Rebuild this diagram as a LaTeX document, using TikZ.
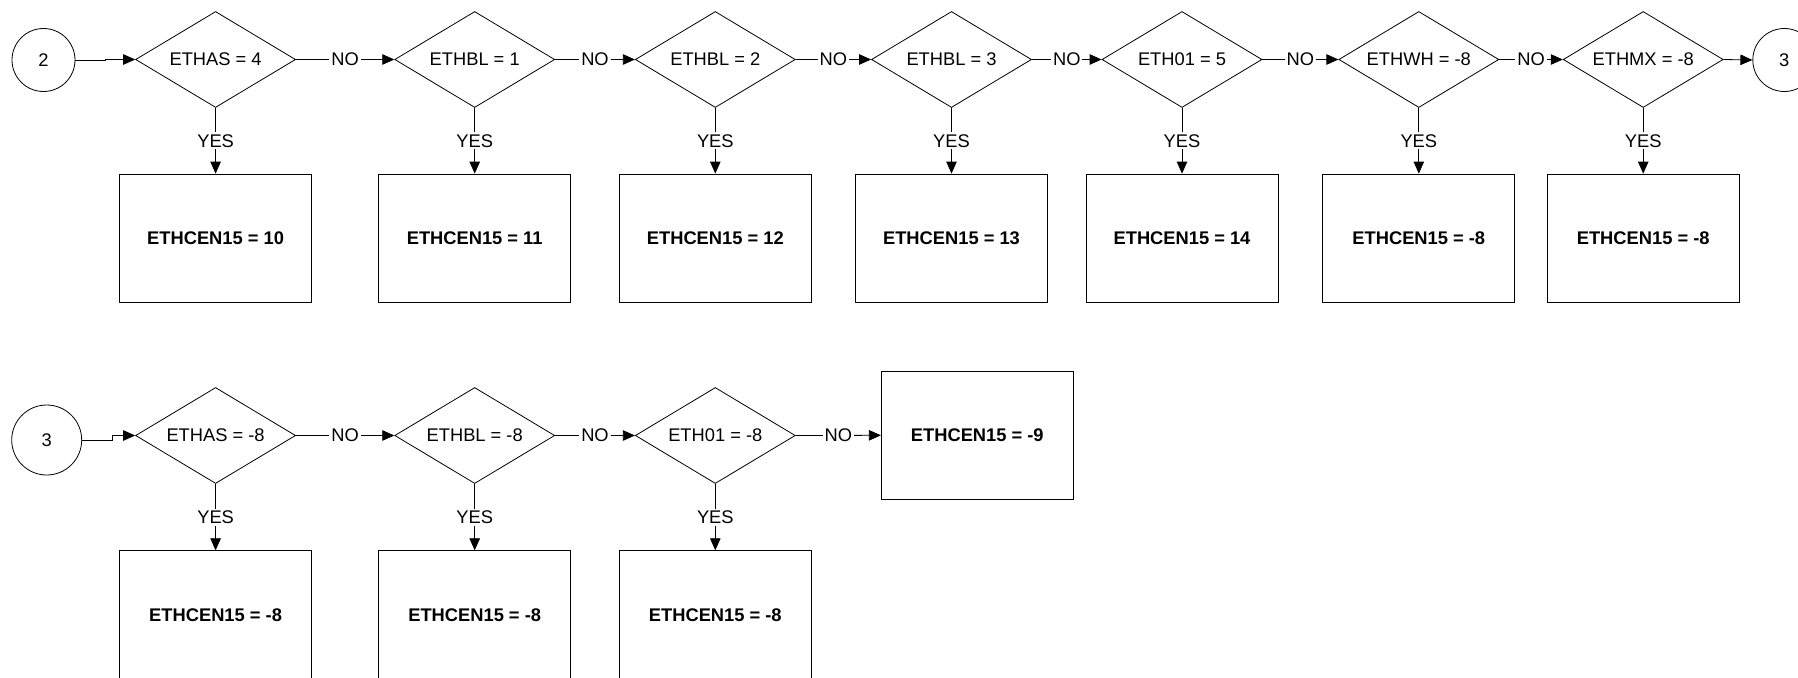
\documentclass[tikz,border=0pt]{standalone}
\usepackage{fontspec}
\setmainfont{Liberation Sans}
\usetikzlibrary{shapes.geometric,arrows.meta}
\begin{document}
\begin{tikzpicture}[x=1pt,y=-1pt,
  every node/.style={font=\fontsize{18.3}{21}\selectfont},
  dec/.style={diamond,draw,line width=0.8pt,minimum width=160pt,minimum height=96pt,inner sep=0pt,aspect=1.67},
  res/.style={rectangle,draw,line width=0.8pt,minimum width=192pt,minimum height=128pt,font=\fontsize{18.3}{21}\selectfont\bfseries},
  conn/.style={circle,draw,line width=0.8pt,minimum size=63pt,inner sep=0pt},
  arr/.style={line width=0.8pt,-{Triangle[length=12pt,width=10.5pt]}},
  lbl/.style={fill=white,inner sep=2pt}
]
\useasboundingbox (0,0) rectangle (1798,677);
\fill[white] (0,0) rectangle (1798,677);

% Row 1
\node[conn] (c2) at (43.5,60) {2};
\node[dec] (d1) at (215.6,59.5) {ETHAS = 4};
\node[dec] (d2) at (474.7,59.5) {ETHBL = 1};
\node[dec] (d3) at (715.3,59.5) {ETHBL = 2};
\node[dec] (d4) at (951.5,59.5) {ETHBL = 3};
\node[dec] (d5) at (1182,59.5) {ETH01 = 5};
\node[dec] (d6) at (1418.8,59.5) {ETHWH = -8};
\node[dec] (d7) at (1643.2,59.5) {ETHMX = -8};
\node[conn] (c3a) at (1784.3,60) {3};

\node[res] (b1) at (215.6,238) {ETHCEN15 = 10};
\node[res] (b2) at (474.7,238) {ETHCEN15 = 11};
\node[res] (b3) at (715.3,238) {ETHCEN15 = 12};
\node[res] (b4) at (951.5,238) {ETHCEN15 = 13};
\node[res] (b5) at (1182,238) {ETHCEN15 = 14};
\node[res] (b6) at (1418.8,238) {ETHCEN15 = -8};
\node[res] (b7) at (1643.2,238) {ETHCEN15 = -8};

\draw[arr] (c2.east) -- ++(30,0) |- (d1.west);
\foreach \a/\b in {d1/d2,d2/d3,d3/d4,d4/d5,d5/d6,d6/d7}
  \draw[arr] (\a.east) -- node[lbl]{NO} (\b.west);
\draw[arr] (d7.east) -- (c3a.west);
\foreach \a/\b in {d1/b1,d2/b2,d3/b3,d4/b4,d5/b5,d6/b6,d7/b7}
  \draw[arr] (\a.south) -- node[lbl]{YES} (\b.north);

% Row 2
\node[conn,minimum size=70pt] (c3b) at (46.7,440) {3};
\node[dec] (e1) at (215.6,435.5) {ETHAS = -8};
\node[dec] (e2) at (474.7,435.5) {ETHBL = -8};
\node[dec] (e3) at (715.3,435.5) {ETH01 = -8};
\node[res] (f4) at (977.3,435.3) {ETHCEN15 = -9};

\node[res] (f1) at (215.6,614.7) {ETHCEN15 = -8};
\node[res] (f2) at (474.7,614.7) {ETHCEN15 = -8};
\node[res] (f3) at (715.3,614.7) {ETHCEN15 = -8};

\draw[arr] (c3b.east) -- ++(30,0) |- (e1.west);
\draw[arr] (e1.east) -- node[lbl]{NO} (e2.west);
\draw[arr] (e2.east) -- node[lbl]{NO} (e3.west);
\draw[arr] (e3.east) -- node[lbl]{NO} (f4.west);
\foreach \a/\b in {e1/f1,e2/f2,e3/f3}
  \draw[arr] (\a.south) -- node[lbl]{YES} (\b.north);
\end{tikzpicture}
\end{document}
